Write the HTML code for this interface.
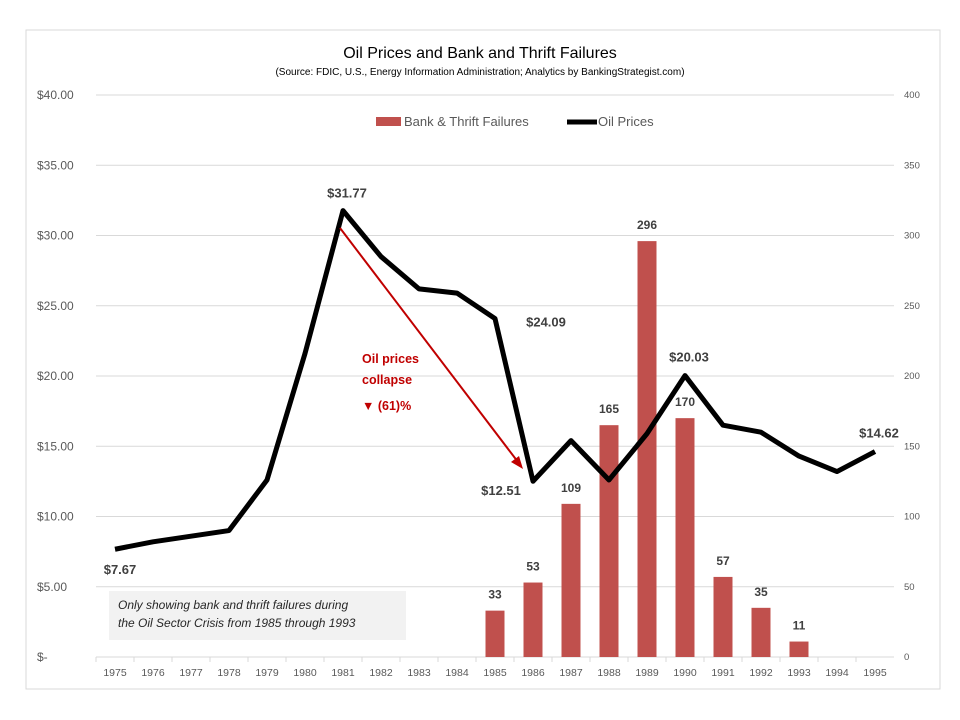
<!DOCTYPE html>
<html><head><meta charset="utf-8"><style>
body{margin:0;background:#fff;}
svg{display:block;font-family:"Liberation Sans",sans-serif;}
</style></head><body>
<svg id="chart" width="960" height="720">
<rect x="26" y="30" width="914" height="659" fill="#fff" stroke="#d9d9d9"/>
<text x="480" y="58" text-anchor="middle" font-size="16" fill="#000">Oil Prices and Bank and Thrift Failures</text>
<text x="480" y="75" text-anchor="middle" font-size="10" fill="#000">(Source:  FDIC, U.S., Energy Information Administration; Analytics by BankingStrategist.com)</text>
<g id="grid"></g><g id="bars"></g><g id="line"></g><g id="labels"></g>
<g>
<rect x="376" y="117" width="25" height="9" fill="#c0504d"/>
<text x="404" y="126" font-size="13" fill="#595959">Bank &amp; Thrift Failures</text>
<line x1="567" y1="122" x2="597" y2="122" stroke="#000" stroke-width="5"/>
<text x="598" y="126" font-size="13" fill="#595959">Oil Prices</text>
</g>
<g>
<line x1="340" y1="228" x2="518" y2="462" stroke="#c00000" stroke-width="2"/>
<polygon points="523,469 511,462 519,456" fill="#c00000"/>
<text x="362" y="363" font-size="12.5" font-weight="bold" fill="#c00000">Oil prices</text>
<text x="362" y="384" font-size="12.5" font-weight="bold" fill="#c00000">collapse</text>
<text x="362" y="410" font-size="12.5" font-weight="bold" fill="#c00000">▼  (61)%</text>
</g>
<g>
<rect x="109" y="591" width="297" height="49" fill="#f2f2f2"/>
<text x="118" y="609" font-size="12" font-style="italic" fill="#262626">Only showing bank and thrift failures during</text>
<text x="118" y="627" font-size="12" font-style="italic" fill="#262626">the Oil Sector Crisis from 1985 through 1993</text>
</g>
</svg>
<script>
const years=["1975","1976","1977","1978","1979","1980","1981","1982","1983","1984","1985","1986","1987","1988","1989","1990","1991","1992","1993","1994","1995"];
const oilPrices=[7.67,8.2,8.6,9.0,12.6,21.6,31.77,28.5,26.2,25.9,24.09,12.51,15.4,12.6,15.9,20.03,16.5,16.0,14.3,13.2,14.62];
const failures=[null,null,null,null,null,null,null,null,null,null,33,53,109,165,296,170,57,35,11,null,null];
const leftTicks=["$-","$5.00","$10.00","$15.00","$20.00","$25.00","$30.00","$35.00","$40.00"];
const rightTicks=["0","50","100","150","200","250","300","350","400"];
const oilLabels={"1975":"$7.67","1981":"$31.77","1985":"$24.09","1986":"$12.51","1990":"$20.03","1995":"$14.62"};
const NS="http://www.w3.org/2000/svg";
const X0=96,CW=38,Y0=657,YT=95;
const x=i=>X0+CW*(i+0.5);
const yL=v=>Y0-(Y0-YT)*v/40;
const yR=v=>Y0-(Y0-YT)*v/400;
function mk(tag,attrs,parent,txt){const e=document.createElementNS(NS,tag);for(const k in attrs)e.setAttribute(k,attrs[k]);if(txt!==undefined)e.textContent=txt;document.getElementById(parent).appendChild(e);return e;}
leftTicks.forEach((t,i)=>{const v=i*5,y=yL(v);
 const g=mk('line',{x1:X0,x2:X0+CW*21,y1:y,y2:y,stroke:'#d9d9d9'},'grid');
 
 
 const l=mk('text',{x:37,y:y+4,'font-size':12,fill:'#595959'},'grid',t);
 
 
});
rightTicks.forEach((t,i)=>{const y=yR(+t);
 const l=mk('text',{x:904,y:y+3,'font-size':9.5,fill:'#595959'},'grid',t);
 
 
});
years.forEach((yr,i)=>{
 const tk=mk('line',{x1:X0+CW*i,x2:X0+CW*i,y1:Y0,y2:Y0+5,stroke:'#d9d9d9'},'grid');
 
 
 const l=mk('text',{x:x(i),y:676,'text-anchor':'middle','font-size':10.5,fill:'#595959'},'grid',yr);
 
 
});
failures.forEach((v,i)=>{if(v==null)return;
 const b=mk('rect',{x:x(i)-9.5,y:yR(v),width:19,height:Y0-yR(v),fill:'#c0504d'},'bars');
 
 
 const l=mk('text',{x:x(i),y:yR(v)-12,'text-anchor':'middle','font-size':12,'font-weight':'bold',fill:'#404040'},'labels',String(v));
 
 
});
const pl=mk('polyline',{points:oilPrices.map((v,i)=>x(i)+','+yL(v)).join(' '),fill:'none',stroke:'#000','stroke-width':5,'stroke-linejoin':'round'},'line');


const off={"1975":[5,25],"1981":[4,-13],"1985":[51,8],"1986":[-32,14],"1990":[4,-14],"1995":[4,-14]};
years.forEach((yr,i)=>{if(!oilLabels[yr])return;const o=off[yr];
 const l=mk('text',{x:x(i)+o[0],y:yL(oilPrices[i])+o[1],'text-anchor':'middle','font-size':13,'font-weight':'bold',fill:'#404040'},'labels',oilLabels[yr]);
 
 
});
</script>
</body></html>
